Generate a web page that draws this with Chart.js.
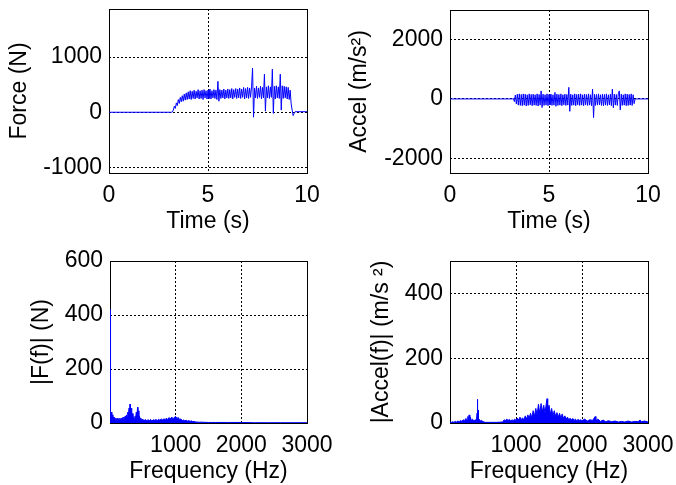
<!DOCTYPE html>
<html>
<head>
<meta charset="utf-8">
<title>Force and acceleration</title>
<script src="https://cdn.jsdelivr.net/npm/chart.js@4.4.1/dist/chart.umd.min.js"></script>
<style>
    html, body { margin: 0; padding: 0; background: #fff; }
    #wrap { position: relative; width: 676px; height: 485px; }
    #wrap canvas { position: absolute; left: 0; top: 0; }
</style>
</head>
<body>
<div id="wrap">
    <canvas id="force" width="676" height="485"></canvas>
    <canvas id="accel" width="676" height="485"></canvas>
    <canvas id="forceFft" width="676" height="485"></canvas>
    <canvas id="accelFft" width="676" height="485"></canvas>
</div>
<script>
// --- data ---
const timeTicks = [0, 5, 10];
const forceTicks = [-1000, 0, 1000];
const accelTicks = [-2000, 0, 2000];
const freqTicks = [1000, 2000, 3000];
const forceFftTicks = [0, 200, 400, 600];
const accelFftTicks = [0, 200, 400];

// time (s) for the recorded part, same grid for both signals
const timeS = [
    0, 3.15,
    3.20, 3.25, 3.30, 3.35, 3.40, 3.45, 3.50, 3.55, 3.60, 3.65,
    3.70, 3.75, 3.80, 3.85, 3.90, 3.95, 4.00, 4.05, 4.10, 4.15,
    4.20, 4.25, 4.30, 4.35, 4.40, 4.45, 4.50, 4.55, 4.60, 4.65,
    4.70, 4.75, 4.80, 4.85, 4.90, 4.95, 5.00, 5.05, 5.10, 5.15,
    5.20, 5.25, 5.30, 5.35, 5.40, 5.45, 5.50, 5.55, 5.60, 5.65,
    5.70, 5.75, 5.80, 5.85, 5.90, 5.95, 6.00, 6.05, 6.10, 6.15,
    6.20, 6.25, 6.30, 6.35, 6.40, 6.45, 6.50, 6.55, 6.60, 6.65,
    6.70, 6.75, 6.80, 6.85, 6.90, 6.95, 7.00, 7.05, 7.10, 7.15,
    7.20, 7.25, 7.30, 7.35, 7.40, 7.45, 7.50, 7.55, 7.60, 7.65,
    7.70, 7.75, 7.80, 7.85, 7.90, 7.95, 8.00, 8.05, 8.10, 8.15,
    8.20, 8.25, 8.30, 8.35, 8.40, 8.45, 8.50, 8.55, 8.60, 8.65,
    8.70, 8.75, 8.80, 8.85, 8.90, 8.95, 9.00, 9.05, 9.10, 9.15,
    9.20, 9.25, 9.30,
    9.35, 9.40, 10
];

// force (N)
const forceN = [
    0, 0,
    5, 40, 110, 70, 170, 120, 230, 160, 270, 190,
    300, 200, 330, 220, 350, 230, 370, 240, 390, 230,
    380, 250, 400, 240, 380, 260, 410, 240, 390, 250,
    400, 230, 410, 260, 390, 240, 400, 250, 420, 240,
    390, 260, 410, 250, 400, 230, 560, 200, 410, 250,
    400, 260, 420, 240, 400, 260, 420, 250, 410, 260,
    430, 240, 410, 270, 430, 250, 420, 260, 440, 250,
    420, 270, 450, 240, 430, 260, 450, 250, 440, 270,
    460, 800, -90, 440, 260, 470, 250, 440, 270, 470,
    240, 450, 260, 690, 20, 460, 260, 480, 250, 460,
    270, 780, -20, 470, 240, 480, 260, 460, 250, 690,
    40, 480, 250, 470, 260, 460, 240, 450, 230, 400,
    150, 40, -60,
    -20, 10, 10
];

// acceleration (m/s^2)
const accelMs2 = [
    0, 0,
    20, -90, 130, -170, 160, -210, 170, -220, 150, -230,
    170, -210, 160, -240, 140, -220, 170, -200, 150, -230,
    160, -210, 140, -220, 170, -240, 150, -210, 270, -290,
    160, -220, 140, -210, 170, -230, 150, -200, 160, -220,
    140, -210, 220, -250, 160, -220, 150, -210, 170, -230,
    140, -200, 160, -220, 150, -210, 390, -420, 160, -220,
    140, -210, 170, -230, 150, -200, 160, -220, 170, -210,
    140, -230, 160, -200, 150, -220, 170, -210, 140, -230,
    330, -630, 160, -220, 150, -210, 170, -200, 140, -220,
    160, -230, 150, -210, 170, -220, 140, -200, 160, -230,
    330, -300, 160, -210, 150, -220, 170, 270, -370, 160,
    -220, 140, -210, 170, -230, 160, -220, 150, -210, 170,
    -220, 140, -160,
    0, 0, 0
];

// spectrum of force
const forceFreqHz = [
    0, 4, 8, 12, 20, 28, 36, 44, 52, 60,
    70, 80, 90, 100, 110, 120, 130, 140, 150, 160,
    170, 180, 190, 200, 210, 220, 230, 240, 250, 260,
    270, 280, 290, 300, 305, 310, 320, 330, 340, 350,
    360, 370, 380, 390, 400, 410, 420, 425, 430, 440,
    450, 460, 470, 480, 500, 520, 540, 560, 580, 600,
    620, 640, 660, 680, 700, 720, 740, 760, 780, 800,
    820, 840, 860, 880, 900, 920, 940, 960, 980, 1000,
    1020, 1040, 1060, 1080, 1100, 1120, 1140, 1160, 1180, 1200,
    1220, 1240, 1260, 1280, 1300, 1350, 1400, 1500, 1600, 1800,
    2000, 2200, 2400, 2600, 2800, 3000
];
const forceMagN = [
    420, 50, 45, 35, 40, 25, 30, 18, 22, 14,
    20, 12, 18, 12, 17, 11, 16, 12, 18, 11,
    17, 13, 20, 14, 22, 15, 25, 18, 30, 22,
    40, 30, 55, 38, 70, 45, 55, 30, 35, 18,
    22, 15, 25, 18, 40, 25, 58, 30, 45, 20,
    25, 14, 18, 10, 14, 9, 13, 8, 12, 9,
    13, 8, 12, 10, 13, 9, 14, 10, 15, 11,
    16, 12, 18, 13, 20, 15, 22, 16, 21, 24,
    17, 20, 13, 15, 9, 11, 8, 10, 7, 9,
    6, 8, 5, 6, 4, 3, 3, 2, 2, 2,
    2, 1, 1, 1, 1, 1
];

// spectrum of acceleration
const accelFreqHz = [
    0, 20, 40, 60, 80, 100, 120, 140, 160, 180,
    200, 220, 240, 260, 270, 280, 290, 300, 310, 320,
    340, 360, 380, 400, 410, 415, 420, 425, 430, 440,
    460, 480, 500, 520, 540, 600, 700, 800, 820, 840,
    860, 880, 900, 920, 940, 960, 980, 1000, 1020, 1040,
    1060, 1080, 1100, 1120, 1140, 1160, 1180, 1200, 1220, 1240,
    1260, 1280, 1300, 1320, 1340, 1360, 1380, 1400, 1420, 1440,
    1460, 1470, 1480, 1500, 1520, 1540, 1560, 1580, 1600, 1620,
    1640, 1660, 1680, 1700, 1720, 1740, 1760, 1780, 1800, 1820,
    1840, 1860, 1880, 1900, 1920, 1940, 1960, 1980, 2000, 2040,
    2080, 2120, 2160, 2200, 2210, 2240, 2280, 2320, 2360, 2400,
    2450, 2500, 2550, 2600, 2650, 2700, 2750, 2800, 2850, 2880,
    2900, 2950, 3000
];
const accelMag = [
    3, 2, 4, 2, 5, 3, 6, 4, 8, 5,
    10, 7, 14, 10, 20, 12, 25, 10, 18, 8,
    12, 6, 10, 8, 30, 73, 20, 40, 10, 12,
    6, 8, 4, 3, 2, 2, 2, 3, 10, 7,
    12, 8, 11, 6, 10, 7, 12, 8, 15, 9,
    18, 10, 16, 9, 22, 12, 25, 14, 30, 16,
    38, 20, 45, 25, 58, 30, 60, 35, 55, 30,
    62, 75, 35, 55, 28, 45, 22, 38, 20, 32,
    18, 30, 15, 28, 14, 22, 12, 18, 10, 15,
    9, 14, 8, 12, 7, 11, 8, 10, 7, 12,
    6, 10, 8, 20, 6, 12, 5, 9, 4, 7,
    4, 6, 3, 5, 3, 6, 3, 5, 4, 9,
    4, 6, 3
];

// --- drawing ---
const FONT = { family: '"Liberation Sans", Arial, sans-serif', size: 23, lineHeight: 1.2 };
const X_AXIS_H = 62;

function toPoints(xs, ys) {
    return xs.map((x, i) => ({ x: x, y: ys[i] }));
}

// full box round the plot area, drawn under the data like MATLAB
const boxPlugin = {
    id: 'box',
    beforeDatasetsDraw(chart) {
        const a = chart.chartArea;
        const ctx = chart.ctx;
        ctx.save();
        ctx.strokeStyle = '#000';
        ctx.lineWidth = 1;
        ctx.strokeRect(Math.round(a.left) + 0.5, Math.round(a.top) + 0.5,
            Math.round(a.right - a.left), Math.round(a.bottom - a.top));
        ctx.restore();
    }
};

// no extra room for half tick labels, the layout padding places the box
function noLabelPadding(s) {
    s.paddingTop = 0;
    s.paddingBottom = 0;
    s.paddingLeft = 0;
    s.paddingRight = 0;
}

function axisOptions(min, max, ticks, title) {
    return {
        type: 'linear',
        min: min,
        max: max,
        afterBuildTicks: s => { s.ticks = ticks.map(v => ({ value: v })); },
        grid: { color: '#000', lineWidth: 1, drawTicks: false },
        border: { display: false, dash: [2, 2] },
        ticks: {
            color: '#000',
            font: FONT,
            autoSkip: false,
            maxRotation: 0,
            callback: v => String(v)
        },
        title: { display: true, text: title, color: '#000', font: FONT }
    };
}

function makePanel(id, area, yAxisW, xs, ys, x, y, filled) {
    const xScale = axisOptions(x.min, x.max, x.ticks, x.title);
    xScale.ticks.padding = 9;
    xScale.title.padding = { top: 0, bottom: 0 };
    xScale.afterFit = s => { s.height = X_AXIS_H; noLabelPadding(s); };

    const yScale = axisOptions(y.min, y.max, y.ticks, y.title);
    yScale.ticks.padding = 7;
    yScale.title.padding = { top: 2, bottom: 0 };
    yScale.afterFit = s => { s.width = yAxisW; noLabelPadding(s); };

    new Chart(document.getElementById(id), {
        type: 'scatter',
        data: {
            datasets: [{
                data: toPoints(xs, ys),
                showLine: true,
                borderColor: '#0000ff',
                backgroundColor: '#0000ff',
                fill: filled ? 'origin' : false,
                borderWidth: 1,
                pointRadius: 0,
                tension: 0
            }]
        },
        options: {
            responsive: false,
            animation: false,
            layout: {
                padding: {
                    left: area.left - yAxisW,
                    top: area.top,
                    right: 676 - area.right,
                    bottom: 485 - area.bottom - X_AXIS_H
                }
            },
            scales: { x: xScale, y: yScale },
            plugins: { legend: { display: false }, tooltip: { enabled: false } }
        },
        plugins: [boxPlugin]
    });
}

makePanel('force', { left: 109, top: 9, right: 307, bottom: 173 }, 105, timeS, forceN,
    { min: 0, max: 10, ticks: timeTicks, title: 'Time (s)' },
    { min: -1100, max: 1870, ticks: forceTicks, title: 'Force (N)' }, false);

makePanel('accel', { left: 450, top: 10, right: 648, bottom: 173 }, 106, timeS, accelMs2,
    { min: 0, max: 10, ticks: timeTicks, title: 'Time (s)' },
    { min: -2500, max: 3000, ticks: accelTicks, title: 'Accel (m/s²)' }, false);

makePanel('forceFft', { left: 110, top: 261, right: 307, bottom: 423 }, 84, forceFreqHz, forceMagN,
    { min: 0, max: 3000, ticks: freqTicks, title: 'Frequency (Hz)' },
    { min: 0, max: 600, ticks: forceFftTicks, title: '|F(f)| (N)' }, true);

makePanel('accelFft', { left: 450, top: 261, right: 648, bottom: 423 }, 84, accelFreqHz, accelMag,
    { min: 0, max: 3000, ticks: freqTicks, title: 'Frequency (Hz)' },
    { min: 0, max: 500, ticks: accelFftTicks, title: '|Accel(f)| (m/s ²)' }, true);
</script>
</body>
</html>
